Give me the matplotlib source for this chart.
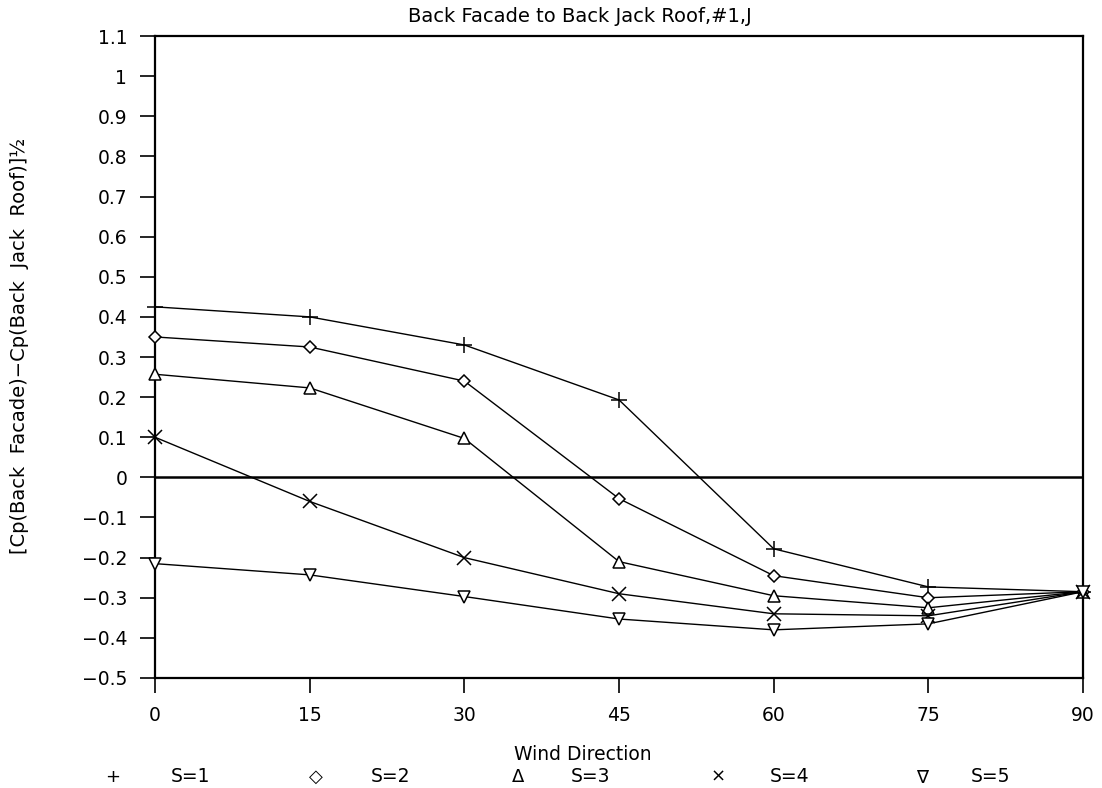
import numpy as np
import matplotlib
matplotlib.use("Agg")
import matplotlib.pyplot as plt

# wind direction (deg)
wind_dir = [0, 15, 30, 45, 60, 75, 90]

# [Cp(Back Facade) - Cp(Back Jack Roof)]^1/2 per S value
s1 = [0.425, 0.40, 0.33, 0.193, -0.178, -0.273, -0.285]
s2 = [0.35, 0.325, 0.24, -0.053, -0.245, -0.30, -0.285]
s3 = [0.257, 0.223, 0.097, -0.21, -0.295, -0.325, -0.285]
s4 = [0.10, -0.06, -0.20, -0.29, -0.34, -0.345, -0.285]
s5 = [-0.215, -0.243, -0.297, -0.353, -0.38, -0.365, -0.285]

series = [s1, s2, s3, s4, s5]
labels = ["S=1", "S=2", "S=3", "S=4", "S=5"]
markers = ["+", "D", "^", "x", "v"]
msizes = [11, 6, 8, 10, 8]
legend_syms = ["+", "\u25c7", "\u0394", "\u00d7", "\u2207"]

plt.rcParams["font.family"] = ["DejaVu Sans"]

fig = plt.figure(figsize=(11.02, 7.88), dpi=100)
ax = fig.add_axes([0.1407, 0.1396, 0.8421, 0.8147])

for ys, m, ms in zip(series, markers, msizes):
    ax.plot(wind_dir, ys, color="black", linewidth=1.0, marker=m,
            markersize=ms, markerfacecolor="white", markeredgecolor="black",
            markeredgewidth=1.1, clip_on=False, zorder=3)

ax.axhline(0, color="black", linewidth=1.8, zorder=2)

ax.set_xlim(0, 90)
ax.set_ylim(-0.5, 1.1)
ax.set_xticks(wind_dir)
ax.set_xticklabels([str(v) for v in wind_dir])
yt = np.round(np.arange(-0.5, 1.101, 0.1), 1)
ax.set_yticks(yt)
ax.set_yticklabels(["0" if v == 0 else ("1" if v == 1 else f"{v:g}".replace("-", "\u2212")) for v in yt])
ax.tick_params(axis="both", direction="out", length=11, width=1.2,
               labelsize=13.5, pad=9, color="black")
for sp in ax.spines.values():
    sp.set_linewidth(1.6)
    sp.set_color("black")

fig.text(580 / 1102, 1 - 16 / 788, "Back Facade to Back Jack Roof,#1,J",
         ha="center", va="center", fontsize=14)
fig.text(583 / 1102, 1 - 755 / 788, "Wind Direction", ha="center",
         va="center", fontsize=13.5)
fig.text(20 / 1102, 1 - 346 / 788,
         "[Cp(Back  Facade)\u2212Cp(Back  Jack  Roof)]\u00bd",
         rotation=90, ha="center", va="center", fontsize=14)

# legend row at bottom
sym_x = [113, 316, 518, 718, 922]
lab_x = [190, 390, 590, 790, 990]
for sx, lx, sym, lab in zip(sym_x, lab_x, legend_syms, labels):
    fig.text(sx / 1102, 1 - 777 / 788, sym, ha="center", va="center",
             fontsize=13)
    fig.text(lx / 1102, 1 - 777 / 788, lab, ha="center", va="center",
             fontsize=13.5)

fig.savefig("out.png", dpi=100, facecolor="white")
